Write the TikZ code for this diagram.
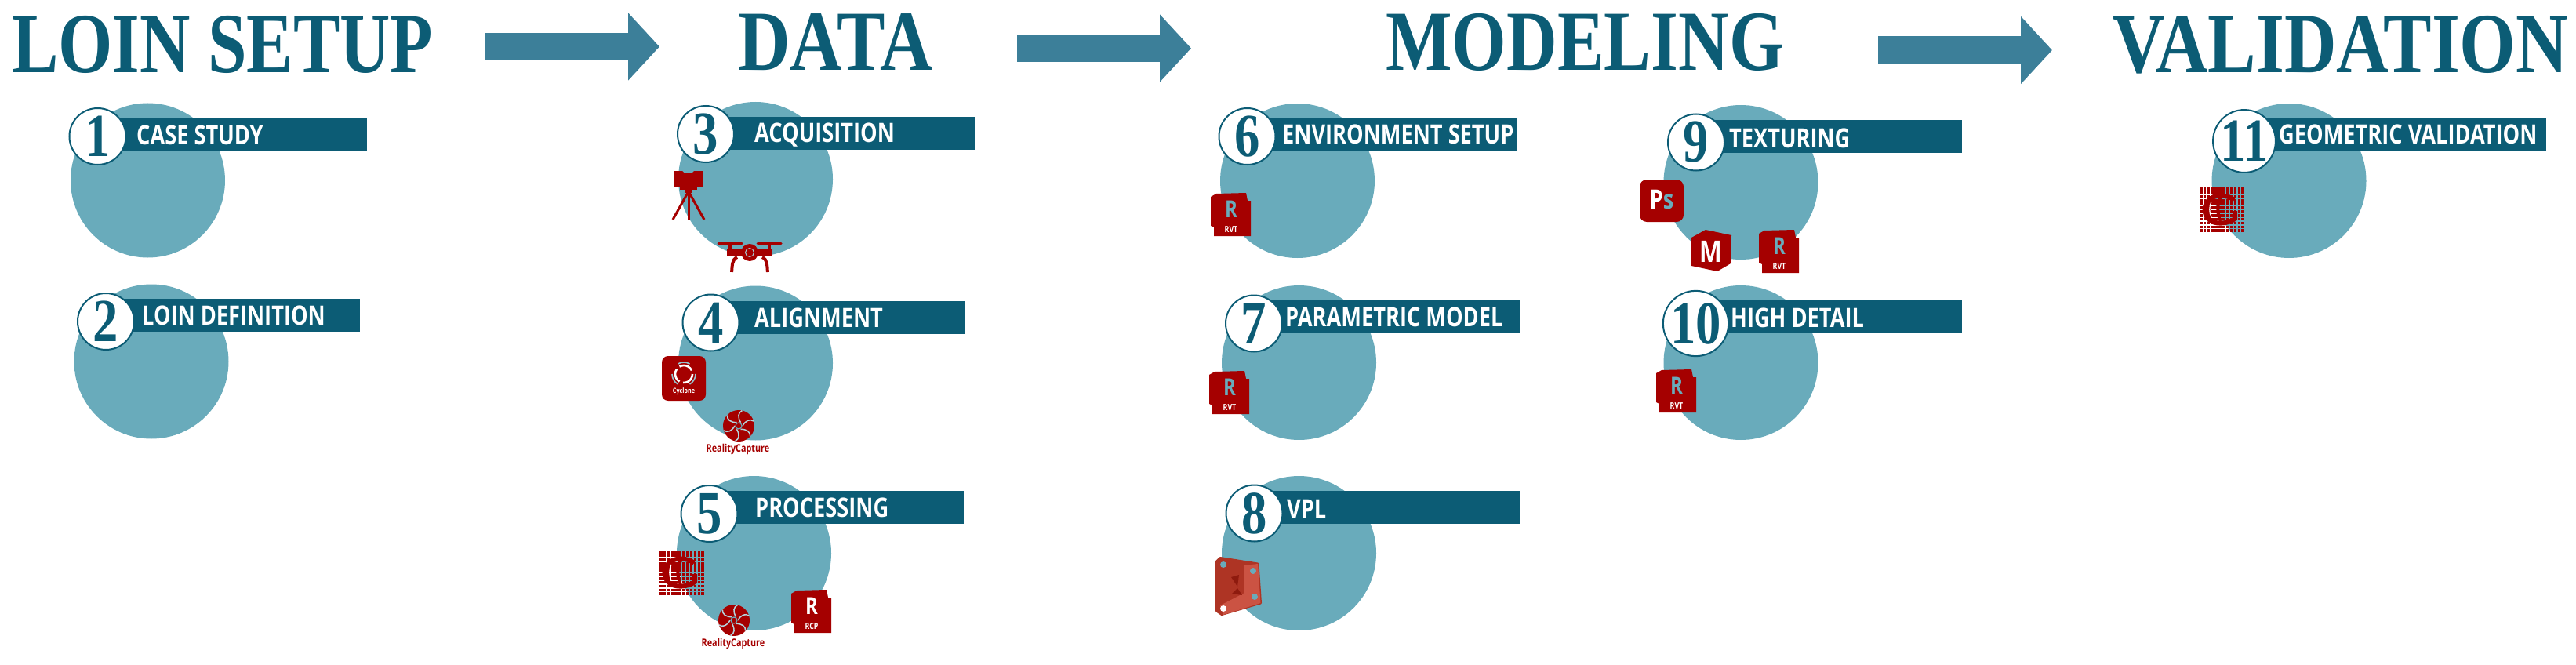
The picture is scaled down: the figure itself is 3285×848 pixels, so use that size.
\documentclass[tikz,border=0pt]{standalone}
\usepackage{fontspec}
\usetikzlibrary{arrows.meta}
\newfontfamily\titlefont[FakeStretch=0.83]{Liberation Serif}
\newfontfamily\bandfont[FakeStretch=0.8]{Open Sans}
\setmainfont{Open Sans}
\definecolor{bandblue}{HTML}{0C5C75}
\definecolor{discblue}{HTML}{69ABBB}
\definecolor{arrowblue}{HTML}{3C7F99}
\definecolor{iconred}{HTML}{A50000}
\definecolor{dynamid}{HTML}{AE3424}
\definecolor{dynlight}{HTML}{CB5343}
\definecolor{dyndark}{HTML}{8E1A0E}
\tikzset{
 disc/.style={circle,fill=discblue,inner sep=0,minimum size=197pt},
 numdisc/.style={circle,draw=bandblue,line width=2pt,fill=white,inner sep=0,minimum size=72pt,text=bandblue,font=\titlefont\bfseries\fontsize{78}{78}\selectfont},
 bandtext/.style={anchor=base west,inner sep=0,text=white,font=\bandfont\bfseries\fontsize{34}{34}\selectfont},
 headtext/.style={anchor=base west,inner sep=0,text=bandblue,transform shape,font=\titlefont\bfseries\fontsize{109}{109}\selectfont},
 bigarrow/.style={draw=arrowblue,line width=35pt,-{Triangle[length=40pt,width=84pt]}},
 pics/revit/.style 2 args={code={
  \fill[iconred](0,5)--(7,1)--(45,0)--(47,10)--(51,10)--(51,55)--(4,55)--(4,44)--(0,42)--cycle;
  \node[inner sep=0,text=#2,font=\bandfont\bfseries\fontsize{30}{30}\selectfont](-r)at(26,21){R};
  \node[inner sep=0,text=white,font=\bandfont\bfseries\fontsize{11}{11}\selectfont](-t)at(26,47){#1};}},
 pics/swirl/.style={code={
  \fill[iconred](0,0)circle(20);
  \foreach \a in {0,60,...,300}{\draw[discblue!50!white,line width=1.5pt,rotate=\a](5,0)..controls(9,-7)and(14,-9)..(19,-6);}
  \draw[discblue,line width=1.2pt](0,0)circle(4);
  \node[inner sep=0,text=iconred,font=\bandfont\bfseries\fontsize{13.5}{13.5}\selectfont](-t)at(-1,30){RealityCapture};}},
 pics/gridlogo/.style={code={
  \foreach \i in {0,...,11}{\foreach \j in {0,...,11}{\fill[iconred](\i*4.85,\j*4.85)rectangle++(3.6,3.6);}}
  \draw[iconred,line width=6pt](44,16)..controls(36,9)and(18,8)..(11,17)..controls(5,24)and(5,33)..(11,40)..controls(18,48)and(36,47)..(45,40)--(45,30);
  \draw[iconred,line width=4pt](27,13)..controls(22,22)and(22,34)..(27,43);
  \draw[iconred,line width=5pt](11,17)--(11,40);
  \draw[white,line width=1.2pt](15,18)..controls(12,24)and(12,32)..(15,38);}},
}
\begin{document}
\begin{tikzpicture}[x=1pt,y=-1pt]
\useasboundingbox(0,0)rectangle(3285,848);
\node[headtext,xscale=0.985](setup)at(15,93){LOIN SETUP};
\node[headtext,xscale=1.02](data)at(941,90){DATA};
\node[headtext,xscale=0.99](modeling)at(1767,90){MODELING};
\node[headtext,xscale=1.02](validation)at(2694,93){VALIDATION};
\coordinate(arr1a)at(618,59.5);\coordinate(arr1b)at(841,59.5);
\coordinate(arr2a)at(1297,61.5);\coordinate(arr2b)at(1519,61.5);
\coordinate(arr3a)at(2395,64);\coordinate(arr3b)at(2617,64);
\draw[bigarrow](arr1a)--(arr1b);
\draw[bigarrow](arr2a)--(arr2b);
\draw[bigarrow](arr3a)--(arr3b);
\foreach \n/\dx/\dy/\nx/\ny/\bt/\be/\tx/\ty/\lbl in {
1/188.5/230/124.5/174/151/468/174/184/CASE STUDY,
2/193/461/135/410/381/459/181/414/LOIN DEFINITION,
3/963.5/228.5/900/171/149/1243/962/182/ACQUISITION,
4/963.5/463/906.5/411.5/384/1231/962/417/ALIGNMENT,
5/961.5/705.5/904.5/655/626/1229/963/659/PROCESSING,
6/1654.5/230.5/1590.5/174/151/1934/1635/183/ENVIRONMENT SETUP,
7/1656.5/462.5/1599/412.5/383/1938/1639/416/PARAMETRIC MODEL,
8/1656.5/705.5/1599.5/654.5/626/1938/1641/661/VPL,
9/2220/232.5/2163/181.5/153/2502/2205/188/TEXTURING,
10/2220/462.5/2162.5/412.5/383/2502/2207/417/HIGH DETAIL,
11/2919/230.5/2862/180/151/3247/2906/183/GEOMETRIC VALIDATION}{
\node[disc](disc\n)at(\dx,\dy){};
\fill[bandblue](\nx,\bt)rectangle(\be,\bt+42);
\node[bandtext](band\n)at(\tx,\ty){\lbl};
\node[numdisc](num\n)at(\nx,\ny){\n};}
% scanner
\begin{scope}[shift={(857,218)}]
\fill[iconred](2,0)--(13,0)--(16,3)--(25,3)--(28,0)--(39,0)--(39,20)--(2,20)--cycle;
\fill[iconred](10,21)rectangle(32,24);
\fill[iconred](17,24)rectangle(25,28);
\draw[iconred,line width=3pt](21,26)--(1,62);
\draw[iconred,line width=3pt](21,27)--(21,62);
\draw[iconred,line width=3pt](21,26)--(41,62);
\end{scope}
% drone
\begin{scope}[shift={(915,307)}]
\draw[iconred,line width=3pt,line cap=round](1,3)--(31,3);
\draw[iconred,line width=3pt,line cap=round](51,3)--(81,3);
\fill[iconred](14,3)rectangle(18,14);
\fill[iconred](64,3)rectangle(68,14);
\fill[iconred](12,10)rectangle(70,20);
\fill[iconred](41,15)circle(11);
\draw[discblue!60!white,line width=1pt](41,15)circle(5.5);
\draw[iconred,line width=4pt](25,21)..controls(18,24)and(19,32)..(18,40);
\draw[iconred,line width=4pt](57,21)..controls(64,24)and(63,32)..(64,40);
\end{scope}
% cyclone
\begin{scope}[shift={(844,454)}]
\fill[iconred,rounded corners=8pt](0,0)rectangle(56,57);
\foreach \a in {0,120,240}{\draw[white,line width=2.6pt,shift={(28,23)},rotate=\a](11,0)arc(0:95:11);
\draw[discblue!70!white,line width=1.6pt,shift={(28,23)},rotate=\a](15,0)arc(0:60:15);}
\node[inner sep=0,text=white,font=\bandfont\bfseries\fontsize{9}{9}\selectfont](cyc)at(28,45){Cyclone};
\end{scope}
\pic(rca)at(942,543){swirl};
\pic(rcb)at(936,791){swirl};
\pic(grida)at(841,702){gridlogo};
\pic(gridb)at(2805,239){gridlogo};
\pic(rvtp)at(1009,752){revit={RCP}{white}};
\pic(rvta)at(1544,246){revit={RVT}{discblue}};
\pic(rvtb)at(1542,473){revit={RVT}{discblue}};
\pic(rvtc)at(2243,293){revit={RVT}{discblue}};
\pic(rvtd)at(2112,471){revit={RVT}{discblue}};
% dynamo
\begin{scope}[shift={(1550,710)}]
\fill[dynamid,draw=dynamid,line width=3pt,line join=round](1.5,6)--(6,1.5)--(54,9)--(57.5,59)--(8,73.5)--(1.5,69)--cycle;
\fill[dynlight](37,11)--(54,9)--(57.5,59)--(10,74)--(6,62)--(37,46)--cycle;
\fill[dyndark](20,26)--(30,23)--(28,38)--cycle;
\fill[dyndark](21,47)--(28,40)--(34,49)--cycle;
\fill[discblue](10,10)circle(4);
\fill[discblue](48,18)circle(4);
\fill[discblue](50,51)circle(4);
\fill[white](10,66)circle(4);
\end{scope}
% photoshop
\fill[iconred,rounded corners=9pt](2091,229)rectangle(2147,283);
\node[inner sep=0,text=white,font=\bandfont\bfseries\fontsize{34}{34}\selectfont](ps)at(2119,255){P\textcolor{discblue}{s}};
% maya
\fill[iconred](2157,303)--(2175,293)--(2208,300)--(2207,336)--(2190,346)--(2157,339)--cycle;
\node[inner sep=0,text=white,font=\bandfont\bfseries\fontsize{38}{38}\selectfont](maya)at(2182,321){M};
\end{tikzpicture}
\end{document}
